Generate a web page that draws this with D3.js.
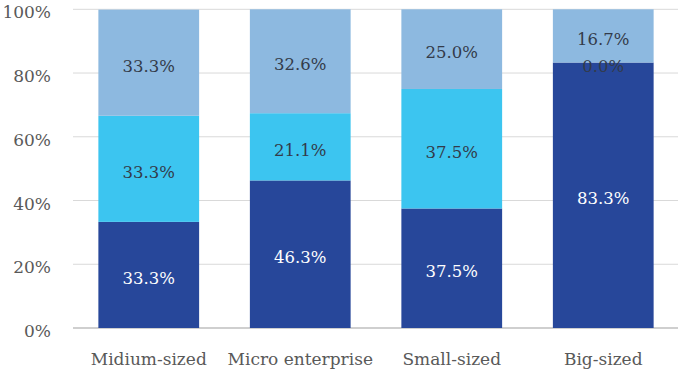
<!DOCTYPE html>
<html>
<head>
<meta charset="utf-8">
<script src="https://cdn.jsdelivr.net/npm/d3@7"></script>
<style>
  body { margin: 0; background: #fff; }
  text { font-family: "DejaVu Serif", "Liberation Serif", serif; }
</style>
</head>
<body>
<div id="graph"></div>
<script>
var categories = ["Midium-sized", "Micro enterprise", "Small-sized", "Big-sized"];
var seriesKeys = ["low", "mid", "high"];
var lowValues = [33.3, 46.3, 37.5, 83.3];
var midValues = [33.3, 21.1, 37.5, 0.0];
var highValues = [33.3, 32.6, 25.0, 16.7];
var yTicks = [0, 20, 40, 60, 80, 100];

var colors = { low: "#27479a", mid: "#3cc5f0", high: "#8db9e0" };
var labelColors = { low: "#ffffff", mid: "#333b4a", high: "#333b4a" };

var width = 678, height = 374;
var margin = { top: 9.3, left: 73, bottom: 46, right: -1 };
var chartWidth = width - margin.left - margin.right;
var chartHeight = height - margin.top - margin.bottom;

var svg = d3.select("#graph").append("svg").attr("width", width).attr("height", height);
var axisLayer = svg.append("g").attr("transform", "translate(" + [margin.left, margin.top] + ")");
var chartLayer = svg.append("g").attr("transform", "translate(" + [margin.left, margin.top] + ")");

var rows = categories.map(function(c, i) {
  return { cat: c, low: lowValues[i], mid: midValues[i], high: highValues[i] };
});
var stacked = d3.stack().keys(seriesKeys)(rows);

var xScale = d3.scaleBand().domain(categories).range([0, chartWidth]).paddingInner(0.335).paddingOuter(0.1675);
var yScale = d3.scaleLinear().domain([0, 100]).range([chartHeight, 0]);

// gridlines
axisLayer.append("g")
  .selectAll("line")
  .data(yTicks.filter(function(t) { return t > 0; }))
  .enter().append("line")
  .attr("x1", 0).attr("x2", chartWidth)
  .attr("y1", function(d) { return yScale(d); })
  .attr("y2", function(d) { return yScale(d); })
  .attr("stroke", "#d9d9d9").attr("stroke-width", 1);

// y axis labels
var yAxis = axisLayer.append("g")
  .call(d3.axisLeft(yScale).tickValues(yTicks).tickSize(0).tickPadding(22).tickFormat(function(d) { return d + "%"; }));
yAxis.select(".domain").remove();
yAxis.selectAll("text").attr("font-size", 17).attr("fill", "#595959")
  .attr("font-family", "DejaVu Serif, serif").attr("dy", "0.5em");

// bars
var layer = chartLayer.selectAll(".layer").data(stacked).enter().append("g")
  .attr("fill", function(d) { return colors[d.key]; });
layer.selectAll("rect").data(function(d) { return d; }).enter().append("rect")
  .attr("x", function(d) { return xScale(d.data.cat); })
  .attr("width", xScale.bandwidth())
  .attr("y", function(d) { return yScale(d[1]); })
  .attr("height", function(d) { return yScale(d[0]) - yScale(d[1]); });

// baseline
axisLayer.append("line")
  .attr("x1", 0).attr("x2", chartWidth)
  .attr("y1", yScale(0)).attr("y2", yScale(0))
  .attr("stroke", "#bfbfbf").attr("stroke-width", 1.5);

// x axis labels
var xAxis = axisLayer.append("g")
  .attr("transform", "translate(0," + chartHeight + ")")
  .call(d3.axisBottom(xScale).tickSize(0).tickPadding(25));
xAxis.select(".domain").remove();
xAxis.selectAll("text").attr("font-size", 17).attr("fill", "#595959")
  .attr("font-family", "DejaVu Serif, serif");

// data labels
stacked.forEach(function(s) {
  chartLayer.append("g").selectAll("text").data(s).enter().append("text")
    .attr("x", function(d) { return xScale(d.data.cat) + xScale.bandwidth() / 2; })
    .attr("y", function(d) { return (yScale(d[0]) + yScale(d[1])) / 2; })
    .attr("dy", "0.55em")
    .attr("text-anchor", "middle")
    .attr("font-size", 16.5)
    .attr("fill", labelColors[s.key])
    .text(function(d) { return (d[1] - d[0]).toFixed(1) + "%"; });
});
</script>
</body>
</html>
